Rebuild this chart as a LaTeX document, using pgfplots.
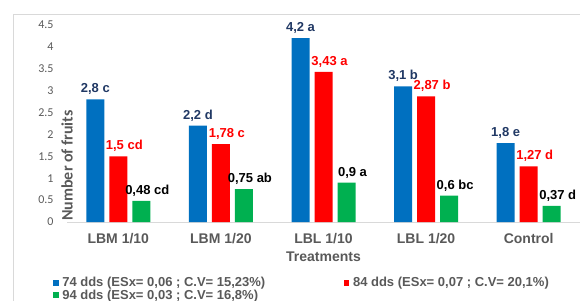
\documentclass[border=0pt]{standalone}
\usepackage{pgfplots}
\pgfplotsset{compat=1.18}
\usepackage{fontspec}
\setmainfont{Liberation Sans}
\newfontfamily\calibri{Carlito}
\definecolor{cblue}{HTML}{0070C0}
\definecolor{cred}{HTML}{FF0000}
\definecolor{cgreen}{HTML}{00B050}
\definecolor{cnavy}{HTML}{203864}
\definecolor{cgray}{HTML}{595959}
\definecolor{cframe}{HTML}{D9D9D9}
\begin{document}
\begin{tikzpicture}[x=1pt,y=1pt]
\useasboundingbox (0,0) rectangle (580,300);
\draw[cframe] (13,-10) rectangle (600,286);
\begin{axis}[
  at={(67pt,78pt)}, anchor=south west,
  scale only axis, width=513pt, height=197pt,
  xmin=-0.5, xmax=4.5, ymin=0, ymax=4.5,
  ybar, bar width=18pt,
  legend image code/.code={\fill[#1] (0pt,-3pt) rectangle (5.5pt,3pt);},
  axis lines*=left,
  y axis line style={draw=none},
  x axis line style={draw=cframe, line width=1pt},
  major tick length=0,
  xtick={0,1,2,3,4},
  xticklabels={LBM 1/10, LBM 1/20, LBL 1/10, LBL 1/20, Control},
  xticklabel style={font=\bfseries\fontsize{14}{14}\selectfont, text=cgray, yshift=-8pt},
  ytick={0,0.5,1,1.5,2,2.5,3,3.5,4,4.5},
  /pgf/number format/assume math mode=true,
  yticklabel style={font=\calibri\fontsize{12}{12}\selectfont, text=cgray, xshift=-10pt},
  xlabel={Treatments},
  xlabel style={font=\bfseries\fontsize{14}{14}\selectfont, text=cgray, at={(axis description cs:0.5,0)}, anchor=center, yshift=-35pt},
  ylabel={Number of fruits},
  every axis y label/.style={at={(axis description cs:0,0.5)}, rotate=90, anchor=center, xshift=-42pt, font=\calibri\bfseries\fontsize{16}{16}\selectfont, text=cgray},
  legend columns=2,
  legend cell align=left,
  legend style={draw=none, fill=none, at={(rel axis cs:0,0)}, anchor=west, xshift=-17pt, yshift=-67pt,
    font=\bfseries\fontsize{13}{13}\selectfont, text=cgray,
    nodes={inner sep=0.6pt},
    /tikz/every even column/.append style={column sep=78pt}},
  nodes near coords,
  point meta=explicit symbolic,
  every node near coord/.append style={font=\bfseries\fontsize{13}{13}\selectfont, yshift=1pt},
]
\addplot[fill=cblue, draw=none, bar shift=-23pt, every node near coord/.append style={text=cnavy}]
  coordinates {(0,2.8) [2,8 c] (1,2.2) [2,2 d] (2,4.2) [4,2 a] (3,3.1) [3,1 b] (4,1.8) [1,8 e]};
\addlegendentry{\hspace{3pt}74 dds (ESx= 0,06 ; C.V= 15,23\%)}
\addplot[fill=cred, draw=none, bar shift=0pt, every node near coord/.append style={text=cred, xshift=6pt}]
  coordinates {(0,1.5) [1,5 cd] (1,1.78) [1,78 c] (2,3.43) [3,43 a] (3,2.87) [2,87 b] (4,1.27) [1,27 d]};
\addlegendentry{\hspace{3pt}84 dds (ESx= 0,07 ; C.V= 20,1\%)}
\addplot[fill=cgreen, draw=none, bar shift=23pt, every node near coord/.append style={text=black, xshift=6pt}]
  coordinates {(0,0.48) [0,48 cd] (1,0.75) [0,75 ab] (2,0.9) [0,9 a] (3,0.6) [0,6 bc] (4,0.37) [0,37 d]};
\addlegendentry{\hspace{3pt}94 dds (ESx= 0,03 ; C.V= 16,8\%)}
\end{axis}
\end{tikzpicture}
\end{document}
